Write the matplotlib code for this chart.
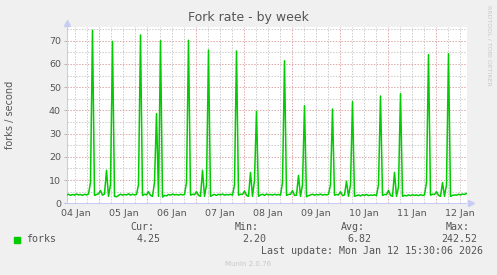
import numpy as np
import pandas as pd
import matplotlib
matplotlib.use("Agg")
import matplotlib.pyplot as plt
from matplotlib.patches import Rectangle

# Fork rate, one value per hour from 04 Jan 07:30 to 12 Jan 15:30
start = pd.Timestamp("2026-01-04 07:30")
forks = [
    3.6, 3.9, 3.4, 3.8, 3.5, 4.0, 3.6, 3.8, 3.4, 3.9, 3.6, 4.0, 9.0, 74.5, 3.4, 3.8, 4.1, 5.5, 3.5, 4.0, 14.2, 3.0, 8.0, 69.7,
    3.0, 2.8, 3.4, 3.9, 3.5, 3.8, 3.6, 4.1, 3.5, 3.9, 3.6, 3.8, 8.0, 72.5, 3.4, 3.9, 3.6, 5.0, 3.4, 3.0, 9.0, 38.6, 3.0, 70.0,
    2.7, 3.4, 3.2, 3.8, 3.5, 4.0, 3.6, 3.8, 3.5, 3.9, 3.6, 3.8, 9.0, 70.2, 3.5, 3.9, 3.7, 5.0, 3.4, 3.0, 14.2, 3.0, 8.0, 66.0,
    3.0, 3.5, 3.8, 3.4, 3.9, 3.6, 4.0, 3.5, 3.8, 3.6, 3.9, 3.5, 8.0, 65.6, 3.5, 3.9, 3.8, 5.3, 3.4, 3.0, 13.3, 3.0, 10.0, 39.6,
    3.0, 3.6, 3.9, 3.4, 4.0, 3.6, 3.8, 3.5, 3.9, 3.6, 3.8, 3.5, 9.0, 61.4, 3.4, 3.8, 3.9, 5.5, 3.4, 3.5, 12.0, 3.0, 8.0, 42.0,
    2.8, 3.3, 3.6, 3.9, 3.5, 3.8, 3.6, 4.0, 3.5, 3.8, 3.6, 3.9, 8.0, 40.6, 3.5, 3.8, 3.6, 5.0, 3.3, 3.6, 9.5, 3.0, 8.0, 43.8,
    3.0, 3.3, 3.6, 3.2, 3.7, 3.4, 3.8, 3.3, 3.6, 3.4, 3.7, 3.3, 8.0, 46.2, 3.4, 3.8, 3.7, 5.6, 3.4, 3.0, 13.3, 3.0, 7.0, 47.2,
    3.0, 3.4, 3.2, 3.6, 3.3, 3.7, 3.4, 3.6, 3.3, 3.7, 3.4, 3.6, 9.0, 64.0, 3.5, 3.9, 3.8, 5.0, 3.4, 3.0, 8.9, 3.0, 8.0, 64.4,
    3.0, 3.4, 3.6, 3.5, 3.9, 3.6, 4.0, 3.8, 4.25,
]
y_ticks = [0, 10, 20, 30, 40, 50, 60, 70]
legend_labels = ["Cur:", "Min:", "Avg:", "Max:"]
legend_values = ["4.25", "2.20", "6.82", "242.52"]

times = pd.date_range(start, periods=len(forks), freq="h")
end = times[-1]

txt = "#555555"
fig = plt.figure(figsize=(4.97, 2.75), dpi=100, facecolor="#f0f0f0")
ax = fig.add_axes([66.5 / 497, 71.7 / 275, 400 / 497, 176.5 / 275])
ax.set_facecolor("white")

# grid: gray every 6 hours / 5 units, red at midnight / every 10 units
for t in pd.date_range(start.floor("D"), end, freq="6h"):
    if t < start:
        continue
    col = "#e0a8a8" if t.hour == 0 else "#cccccc"
    ax.axvline(t, color=col, lw=0.7, ls=(0, (1.5, 1.5)), zorder=1)
for v in range(5, 80, 5):
    col = "#e0a8a8" if v % 10 == 0 else "#cccccc"
    ax.axhline(v, color=col, lw=0.7, ls=(0, (1.5, 1.5)), zorder=1)

ax.plot(times, forks, color="#00cc00", lw=1.1, zorder=3)

ax.set_xlim(start, end)
ax.set_ylim(0, 76)

noons = [t for t in pd.date_range(start.floor("D"), end, freq="D") + pd.Timedelta(hours=12) if start <= t <= end]
ax.set_xticks(noons)
ax.set_xticklabels([t.strftime("%d %b") for t in noons])
ax.set_yticks(y_ticks)
ax.tick_params(axis="x", length=0, pad=4, labelsize=6.8, labelcolor=txt)
ax.tick_params(axis="y", length=2, width=0.6, color="#aaaaaa", pad=2, labelsize=6.8, labelcolor=txt)

for s in ["top", "right"]:
    ax.spines[s].set_visible(False)
for s in ["left", "bottom"]:
    ax.spines[s].set_color("#c8ccf0")
    ax.spines[s].set_linewidth(0.8)
ax.plot([0], [1.02], marker="^", color="#c8ccf0", ms=5, transform=ax.transAxes, clip_on=False)
ax.plot([1.01], [0], marker=">", color="#c8ccf0", ms=5, transform=ax.transAxes, clip_on=False)

fig.text(248 / 497, 1 - 18 / 275, "Fork rate - by week", ha="center", va="center", fontsize=9, color=txt)
fig.text(10 / 497, 1 - 115 / 275, "forks / second", rotation=90, ha="center", va="center", fontsize=7, color=txt)
fig.text(489 / 497, 1 - 5 / 275, "RRDTOOL / TOBI OETIKER", rotation=270, ha="center", va="top", fontsize=4.5, color="#c8c8c8")

# legend block
mono = "DejaVu Sans Mono"
fig.patches.append(Rectangle((14 / 497, 1 - 242.5 / 275), 5.5 / 497, 5.5 / 275, transform=fig.transFigure, color="#00cc00"))
fig.text(26 / 497, 1 - 239.5 / 275, "forks", ha="left", va="center", fontsize=7.2, family=mono, color=txt)
head_x = [154, 259, 365, 470]
val_x = [161, 266, 371, 477]
for lab, val, hx, vx in zip(legend_labels, legend_values, head_x, val_x):
    fig.text(hx / 497, 1 - 227.5 / 275, lab, ha="right", va="center", fontsize=7.2, family=mono, color=txt)
    fig.text(vx / 497, 1 - 239.5 / 275, val, ha="right", va="center", fontsize=7.2, family=mono, color=txt)
fig.text(483 / 497, 1 - 251.5 / 275, "Last update: Mon Jan 12 15:30:06 2026", ha="right", va="center",
         fontsize=7.2, family=mono, color=txt)
fig.text(248 / 497, 1 - 264 / 275, "Munin 2.0.76", ha="center", va="center", fontsize=5, color="#c8c8c8")

fig.savefig("out.png", dpi=100, facecolor=fig.get_facecolor())
